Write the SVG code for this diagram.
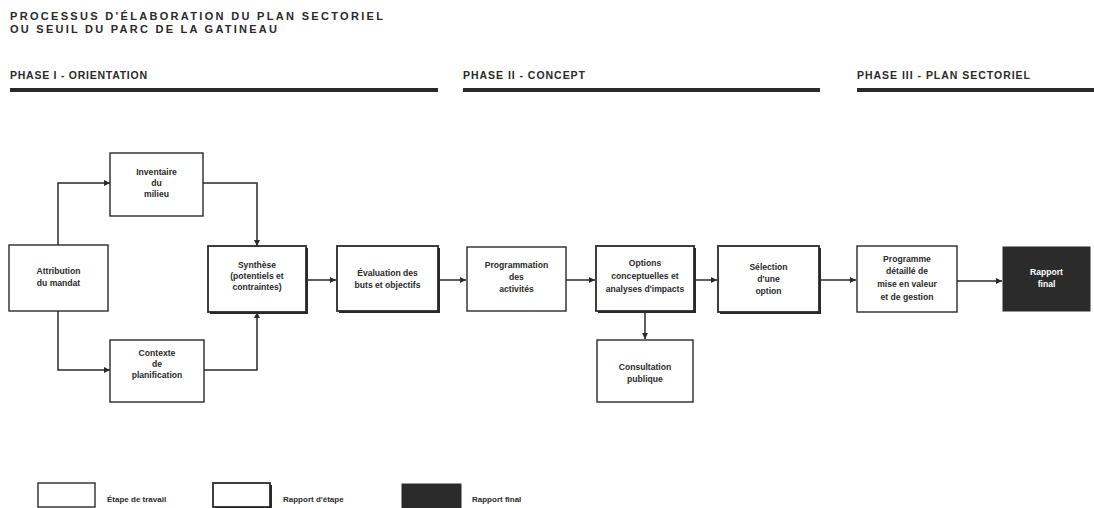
<svg xmlns="http://www.w3.org/2000/svg" width="1094" height="508" viewBox="0 0 1094 508">
<style>
  text { font-family: "Liberation Sans", Arial, sans-serif; font-weight: bold; fill: #2a2a2a; }
  .title { font-size: 11px; }
  .phase { font-size: 10.5px; }
  .lbl { font-size: 8.6px; text-anchor: middle; }
  .lbl-w { font-size: 8.6px; text-anchor: middle; fill: #ffffff; }
  .leg { font-size: 8px; }
  .bar { fill: #2a2a2a; }
  .work { fill: #ffffff; stroke: #2a2a2a; stroke-width: 1.4; }
  .report { fill: #ffffff; stroke: #2a2a2a; stroke-width: 1.8; }
  .shadow { fill: #2a2a2a; }
  .final { fill: #2b2b2b; stroke: #2b2b2b; stroke-width: 1; }
  .conn { fill: none; stroke: #2a2a2a; stroke-width: 1.5; marker-end: url(#ah); }
</style>
<defs>
  <marker id="ah" viewBox="0 0 10 10" refX="10" refY="5" markerWidth="6" markerHeight="6" markerUnits="userSpaceOnUse" orient="auto">
    <path d="M0,0 L10,5 L0,10 z" fill="#2a2a2a"/>
  </marker>
</defs>
<rect width="1094" height="508" fill="#ffffff"/>

<g id="title">
  <text class="title" x="10" y="20" textLength="373" lengthAdjust="spacing">PROCESSUS D'ÉLABORATION DU PLAN SECTORIEL</text>
  <text class="title" x="10" y="33" textLength="267" lengthAdjust="spacing">OU SEUIL DU PARC DE LA GATINEAU</text>
</g>

<g id="phases">
  <text class="phase" x="10" y="79" textLength="137" lengthAdjust="spacing">PHASE I - ORIENTATION</text>
  <rect class="bar" x="10" y="88" width="428" height="4"/>
  <text class="phase" x="463" y="79" textLength="122" lengthAdjust="spacing">PHASE II - CONCEPT</text>
  <rect class="bar" x="463" y="88" width="357" height="4"/>
  <text class="phase" x="857" y="79" textLength="173" lengthAdjust="spacing">PHASE III - PLAN SECTORIEL</text>
  <rect class="bar" x="857" y="88" width="237" height="4"/>
</g>

<g id="connectors">
  <path class="conn" d="M58,245 V183 H110"/>
  <path class="conn" d="M203,183 H257 V246"/>
  <path class="conn" d="M58,311 V370 H110"/>
  <path class="conn" d="M204,370 H257 V312"/>
  <path class="conn" d="M306,280 H336"/>
  <path class="conn" d="M438,280 H466"/>
  <path class="conn" d="M566,280 H595"/>
  <path class="conn" d="M694,280 H717"/>
  <path class="conn" d="M645,312 V339"/>
  <path class="conn" d="M819,280 H856"/>
  <path class="conn" d="M957,281 H1002"/>
</g>

<g id="attribution">
  <rect class="work" x="9" y="245" width="99" height="66"/>
  <text class="lbl" x="58.5" y="274">Attribution</text>
  <text class="lbl" x="58.5" y="286">du mandat</text>
</g>

<g id="inventaire">
  <rect class="work" x="110" y="153" width="93" height="63"/>
  <text class="lbl" x="156.5" y="175">Inventaire</text>
  <text class="lbl" x="156.5" y="186">du</text>
  <text class="lbl" x="156.5" y="197">milieu</text>
</g>

<g id="contexte">
  <rect class="work" x="110" y="340" width="94" height="62"/>
  <text class="lbl" x="157" y="356">Contexte</text>
  <text class="lbl" x="157" y="367">de</text>
  <text class="lbl" x="157" y="378">planification</text>
</g>

<g id="synthese">
  <rect class="shadow" x="210" y="248" width="98" height="66"/>
  <rect class="report" x="208" y="246" width="98" height="66"/>
  <text class="lbl" x="257" y="268">Synthèse</text>
  <text class="lbl" x="257" y="279">(potentiels et</text>
  <text class="lbl" x="257" y="290">contraintes)</text>
</g>

<g id="evaluation">
  <rect class="shadow" x="339" y="248" width="101" height="65"/>
  <rect class="report" x="337" y="246" width="101" height="65"/>
  <text class="lbl" x="387.5" y="276">Évaluation des</text>
  <text class="lbl" x="387.5" y="288">buts et objectifs</text>
</g>

<g id="programmation">
  <rect class="work" x="467" y="247" width="99" height="64"/>
  <text class="lbl" x="516.5" y="268">Programmation</text>
  <text class="lbl" x="516.5" y="280">des</text>
  <text class="lbl" x="516.5" y="292">activités</text>
</g>

<g id="options">
  <rect class="shadow" x="598" y="248" width="98" height="65"/>
  <rect class="report" x="596" y="246" width="98" height="65"/>
  <text class="lbl" x="645" y="266">Options</text>
  <text class="lbl" x="645" y="279">conceptuelles et</text>
  <text class="lbl" x="645" y="292">analyses d'impacts</text>
</g>

<g id="consultation">
  <rect class="work" x="597" y="340" width="96" height="62"/>
  <text class="lbl" x="645" y="370">Consultation</text>
  <text class="lbl" x="645" y="382">publique</text>
</g>

<g id="selection">
  <rect class="shadow" x="720" y="248" width="101" height="66"/>
  <rect class="report" x="718" y="246" width="101" height="66"/>
  <text class="lbl" x="768.5" y="270">Sélection</text>
  <text class="lbl" x="768.5" y="282">d'une</text>
  <text class="lbl" x="768.5" y="294">option</text>
</g>

<g id="programme-detaille">
  <rect class="work" x="857" y="246" width="100" height="66"/>
  <text class="lbl" x="907" y="262">Programme</text>
  <text class="lbl" x="907" y="274">détaillé de</text>
  <text class="lbl" x="907" y="287">mise en valeur</text>
  <text class="lbl" x="907" y="300">et de gestion</text>
</g>

<g id="rapport-final">
  <rect class="final" x="1003" y="247" width="87" height="64"/>
  <text class="lbl-w" x="1046.5" y="275">Rapport</text>
  <text class="lbl-w" x="1046.5" y="287">final</text>
</g>

<g id="legend">
  <rect class="work" x="38" y="483" width="57" height="24"/>
  <text class="leg" x="107" y="502">Étape de travail</text>
  <rect class="shadow" x="215" y="485" width="57" height="24"/>
  <rect class="report" x="213" y="483" width="57" height="24"/>
  <text class="leg" x="283" y="502">Rapport d'étape</text>
  <rect class="final" x="402" y="484" width="59" height="24"/>
  <text class="leg" x="472" y="502">Rapport final</text>
</g>
</svg>
